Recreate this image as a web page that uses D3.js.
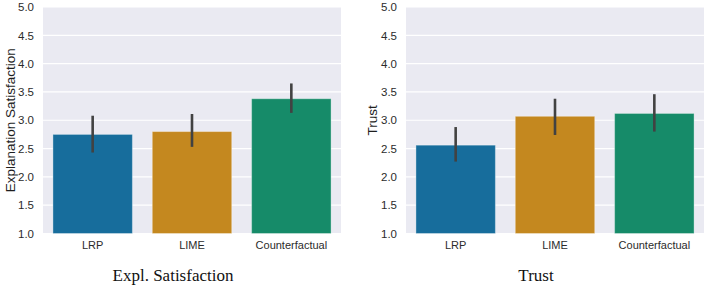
<!DOCTYPE html>
<html>
<head>
<meta charset="utf-8">
<script src="https://cdn.jsdelivr.net/npm/d3@7"></script>
<style>
  body { margin: 0; background: #fff; }
  .tick text { font-family: Arial, "Liberation Sans", sans-serif; fill: #2b2b2b; }
</style>
</head>
<body>
<svg id="chart" width="708" height="286"></svg>
<script>
const categories = ['LRP', 'LIME', 'Counterfactual'];
const yTicks = [1.0, 1.5, 2.0, 2.5, 3.0, 3.5, 4.0, 4.5, 5.0];

// Expl. Satisfaction panel
const satMeans = [2.75, 2.80, 3.38];
const satLow = [2.43, 2.53, 3.13];
const satHigh = [3.08, 3.11, 3.65];

// Trust panel
const trustMeans = [2.56, 3.07, 3.12];
const trustLow = [2.27, 2.74, 2.80];
const trustHigh = [2.88, 3.38, 3.46];

const colors = ['#176d9c', '#c4881f', '#168b69'];

const panels = [
    {left: 43, yLabel: 'Explanation Satisfaction', yLabelX: 10, title: 'Expl. Satisfaction', titleX: 173,
        means: satMeans, low: satLow, high: satHigh},
    {left: 406, yLabel: 'Trust', yLabelX: 372, title: 'Trust', titleX: 536,
        means: trustMeans, low: trustLow, high: trustHigh}
];

const svg = d3.select('#chart');
const plotTop = 7, plotBottom = 233.5, plotWidth = 298;

const y = d3.scaleLinear().domain([1, 5]).range([plotBottom, plotTop]);

panels.forEach((p) => {
    const x = d3.scaleBand()
        .domain(categories)
        .range([0, plotWidth])
        .paddingInner(0.2)
        .paddingOuter(0.1);

    const g = svg.append('g')
        .attr('transform', 'translate(' + p.left + ',0)');

    g.append('rect')
        .attr('x', 0)
        .attr('y', plotTop)
        .attr('width', plotWidth)
        .attr('height', plotBottom - plotTop)
        .attr('fill', '#eaeaf2');

    g.selectAll('.grid')
        .data(yTicks)
        .enter()
    .append('line')
        .attr('class', 'grid')
        .attr('x1', 0)
        .attr('x2', plotWidth)
        .attr('y1', (d) => y(d))
        .attr('y2', (d) => y(d))
        .attr('stroke', '#fff')
        .attr('stroke-width', 1.2);

    const data = categories.map((c, i) => {
        return {name: c, mean: p.means[i], low: p.low[i], high: p.high[i], color: colors[i]};
    });

    g.selectAll('.bar')
        .data(data)
        .enter()
    .append('rect')
        .attr('class', 'bar')
        .attr('x', (d) => x(d.name))
        .attr('width', x.bandwidth())
        .attr('y', (d) => y(d.mean))
        .attr('height', (d) => y(1) - y(d.mean))
        .attr('fill', (d) => d.color)
        .attr('stroke', 'rgba(255,255,255,0.35)')
        .attr('stroke-width', 1);

    g.selectAll('.err')
        .data(data)
        .enter()
    .append('line')
        .attr('class', 'err')
        .attr('x1', (d) => x(d.name) + x.bandwidth() / 2)
        .attr('x2', (d) => x(d.name) + x.bandwidth() / 2)
        .attr('y1', (d) => y(d.low))
        .attr('y2', (d) => y(d.high))
        .attr('stroke', '#424242')
        .attr('stroke-width', 2.6);

    g.append('g')
        .attr('transform', 'translate(0,' + plotBottom + ')')
        .call(d3.axisBottom(x).tickSize(0).tickPadding(8))
        .call((a) => a.select('.domain').remove())
        .selectAll('text')
        .style('font-size', '11px');

    g.append('g')
        .call(d3.axisLeft(y).tickValues(yTicks).tickFormat(d3.format('.1f')).tickSize(0).tickPadding(9))
        .call((a) => a.select('.domain').remove())
        .selectAll('text')
        .style('font-size', '11.5px');

    svg.append('text')
        .attr('transform', 'translate(' + p.yLabelX + ',' + ((plotTop + plotBottom) / 2) + ') rotate(-90)')
        .attr('text-anchor', 'middle')
        .attr('dy', '0.35em')
        .style('font-family', 'Arial, "Liberation Sans", sans-serif')
        .style('font-size', '13.5px')
        .style('fill', '#1e1e1e')
        .text(p.yLabel);

    svg.append('text')
        .attr('x', p.titleX)
        .attr('y', 281)
        .attr('text-anchor', 'middle')
        .style('font-family', '"Liberation Serif", "Times New Roman", serif')
        .style('font-size', '17px')
        .style('fill', '#111')
        .text(p.title);
});
</script>
</body>
</html>
